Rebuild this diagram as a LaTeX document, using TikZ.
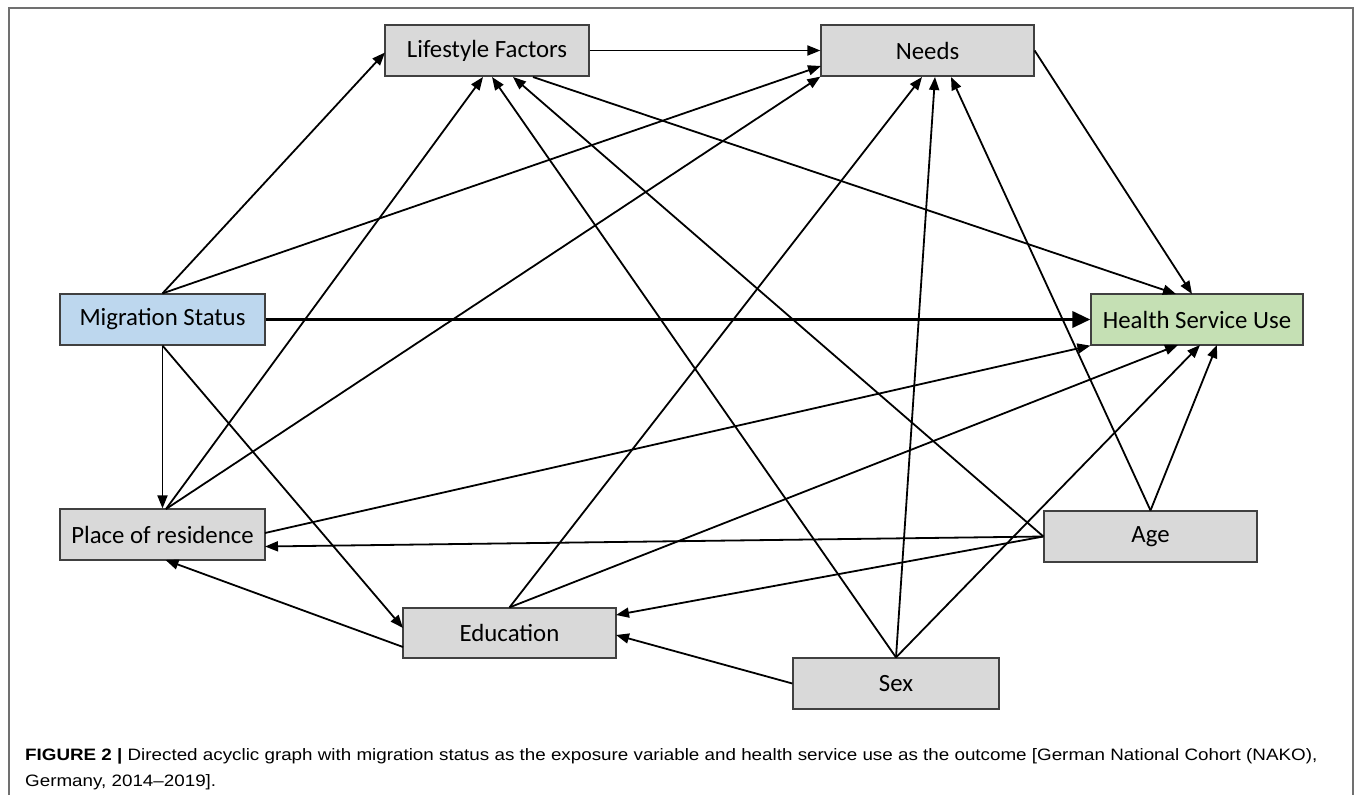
\documentclass[tikz,border=0pt]{standalone}
\usepackage{fontspec}
\setmainfont{Liberation Sans}
\newfontfamily\capfont[FakeStretch=1.14]{Liberation Sans}
\newfontfamily\boxfont{Carlito}
\usetikzlibrary{arrows.meta,calc}
\definecolor{boxgray}{HTML}{D9D9D9}
\definecolor{boxblue}{HTML}{BDD7EE}
\definecolor{boxgreen}{HTML}{C5E0B4}
\definecolor{boxline}{HTML}{404040}
\definecolor{framegray}{HTML}{707070}
\begin{document}
\begin{tikzpicture}[x=1pt,y=-1pt,
  var/.style={draw=boxline, line width=1.2pt, fill=boxgray, minimum width=#1, minimum height=51pt, inner sep=0pt, font=\boxfont\fontsize{24.8}{29}\selectfont},
  var/.default=205pt,
  conn/.style={line width=1.8pt, -{Triangle[length=13pt,width=10pt]}},
  mainconn/.style={line width=3.5pt, -{Triangle[length=18pt,width=16pt]}},
  captext/.style={anchor=base west, inner sep=0pt, font=\capfont\fontsize{16.5}{20}\selectfont}
]
\useasboundingbox (0,0) rectangle (1357,795);
\draw[framegray, line width=1.2pt] (9,795) -- (9,8) -- (1353,8) -- (1353,795);

\node[var=204pt] (lif) at (487,50.5) {Lifestyle Factors};
\node[var=213pt] (nee) at (927.5,50.5) {Needs};
\node[var=205pt, fill=boxblue] (mig) at (162.5,319.5) {Migration Status};
\node[var=212pt, fill=boxgreen] (hsu) at (1197,319.5) {Health Service Use};
\node[var=205pt] (pla) at (162.5,534.5) {Place of residence};
\node[var=213pt] (age) at (1150.5,536.5) {Age};
\node[var=213pt, minimum height=50pt] (edu) at (509.5,633) {Education};
\node[var=206pt] (sex) at (896,683.5) {Sex};

\draw[conn] (mig.north) -- ($(lif.center)+(-102,2)$);
\draw[conn] (mig.north) -- ($(nee.center)+(-106.5,15.5)$);
\draw[conn] (lif.east) -- (nee.west);
\draw[conn] ($(lif.center)+(46,26.5)$) -- ($(hsu.center)+(-21,-25.5)$);
\draw[conn] (nee.east) -- ($(hsu.center)+(-5,-25.5)$);
\draw[mainconn] (mig.east) -- (hsu.west);
\draw[conn] (mig.south) -- (pla.north);
\draw[conn] (mig.south) -- ($(edu.center)+(-106.5,-5)$);
\draw[conn] ($(pla.center)+(3.5,-25.5)$) -- ($(lif.center)+(-4,26.5)$);
\draw[conn] ($(pla.center)+(3.5,-25.5)$) -- (nee.south west);
\draw[conn] ($(pla.center)+(102.5,-1.5)$) -- (hsu.south west);
\draw[conn] (age.west) -- ($(pla.center)+(102.5,12)$);
\draw[conn] (age.west) -- ($(edu.center)+(106.5,-18)$);
\draw[conn] (age.west) -- ($(lif.center)+(26,26.5)$);
\draw[conn] (age.north) -- ($(nee.center)+(23.5,26.5)$);
\draw[conn] (age.north) -- ($(hsu.center)+(20,25.5)$);
\draw[conn] ($(edu.center)+(-106.5,14)$) -- ($(pla.center)+(3,25.5)$);
\draw[conn] (edu.north) -- ($(nee.center)+(-5.5,26.5)$);
\draw[conn] (edu.north) -- ($(hsu.center)+(-19,25.5)$);
\draw[conn] (sex.west) -- ($(edu.center)+(106.5,2)$);
\draw[conn] (sex.north) -- ($(lif.center)+(5,26.5)$);
\draw[conn] (sex.north) -- ($(nee.center)+(7.5,26.5)$);
\draw[conn] (sex.north) -- ($(hsu.center)+(3,25.5)$);

\node[captext] (cap1) at (25,760) {\textbf{FIGURE 2 |} Directed acyclic graph with migration status as the exposure variable and health service use as the outcome [German National Cohort (NAKO),};
\node[captext] (cap2) at (25,786) {Germany, 2014–2019].};
\end{tikzpicture}
\end{document}
